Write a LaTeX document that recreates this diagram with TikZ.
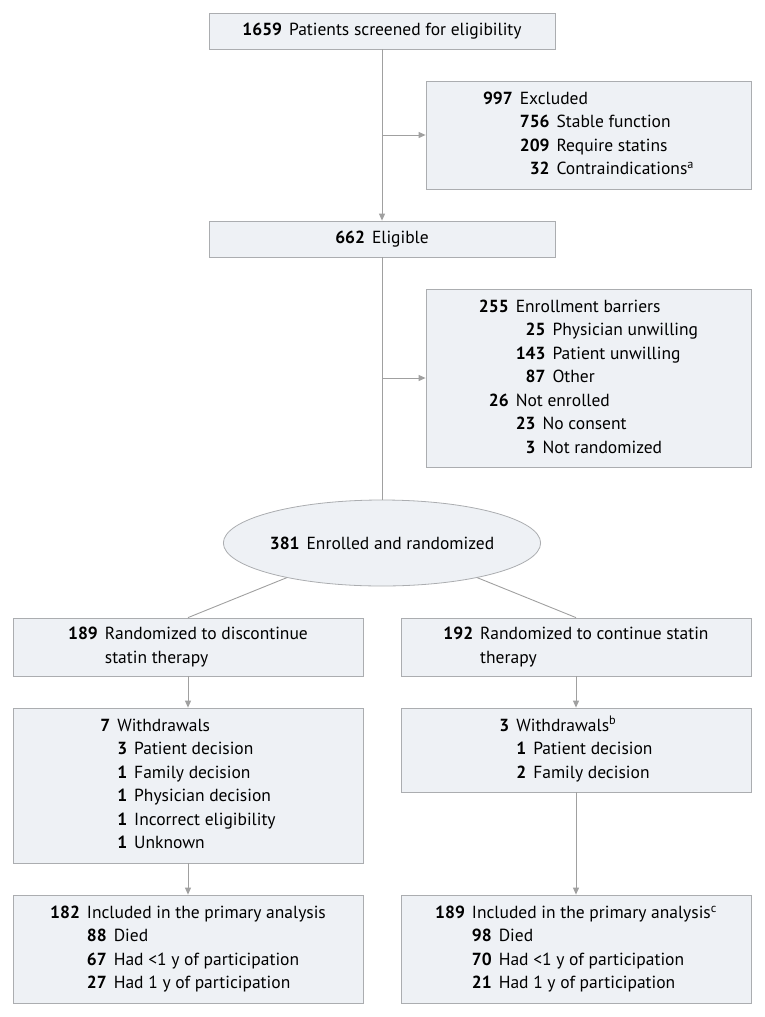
\documentclass[tikz,border=0pt]{standalone}
\usepackage{fontspec}
\setmainfont{PT Sans}
\usetikzlibrary{shapes.geometric, arrows.meta}

\definecolor{boxfill}{HTML}{EEF1F5}
\definecolor{boxline}{HTML}{ABADB0}
\definecolor{flowline}{HTML}{A0A0A0}

% number column + label column, used inside every box
\newenvironment{counts}{\begin{tabular}[t]{@{}r@{\hspace{7pt}}l@{}}}{\end{tabular}}

\begin{document}
\begin{tikzpicture}[x=1pt, y=-1pt, >={Triangle[length=7pt, width=6pt]},
		font=\fontsize{17.5}{23.5}\selectfont,
		box/.style={draw=boxline, fill=boxfill, line width=0.8pt, inner sep=0pt},
		wide/.style={box, minimum width=346pt},
		side/.style={box, minimum width=325pt},
		arm/.style={box, minimum width=350pt},
		flow/.style={draw=flowline, line width=0.9pt}]
			\useasboundingbox (0,0) rectangle (764,1017);
			\node[wide, minimum height=36pt] (screened) at (382,31) {\textbf{1659}\hspace{7pt}Patients screened for eligibility};
			\node[side, minimum height=108pt] (excluded) at (588.5,135) {\begin{counts}
					\textbf{997} & Excluded\\
					& \begin{counts}
						\textbf{756} & Stable function\\
						\textbf{209} & Require statins\\
						\textbf{32} & Contraindications\textsuperscript{a}
					\end{counts}
				\end{counts}};
			\node[wide, minimum height=36pt] (eligible) at (382,239) {\textbf{662}\hspace{7pt}Eligible};
			\node[side, minimum height=178pt] (barriers) at (588.5,378) {\begin{counts}
					\textbf{255} & Enrollment barriers\\
					& \begin{counts}
						\textbf{25} & Physician unwilling\\
						\textbf{143} & Patient unwilling\\
						\textbf{87} & Other
					\end{counts}\\
					\textbf{26} & Not enrolled\\
					& \begin{counts}
						\textbf{23} & No consent\\
						\textbf{3} & Not randomized
					\end{counts}
				\end{counts}};
			\node[box, ellipse, minimum width=308pt, minimum height=86pt] (enrolled) at (382,543) {\textbf{381}\hspace{7pt}Enrolled and randomized};

			% two arms
			\node[arm, minimum height=58pt] (disc) at (188,647) {\begin{counts}
					\textbf{189} & Randomized to discontinue\\
					& statin therapy
				\end{counts}};
			\node[arm, minimum height=58pt] (cont) at (576,647) {\begin{counts}
					\textbf{192} & Randomized to continue statin\\
					& therapy
				\end{counts}};
			\node[arm, minimum height=155pt] (wdisc) at (188,785.5) {\begin{counts}
					\textbf{7} & Withdrawals\\
					& \begin{counts}
						\textbf{3} & Patient decision\\
						\textbf{1} & Family decision\\
						\textbf{1} & Physician decision\\
						\textbf{1} & Incorrect eligibility\\
						\textbf{1} & Unknown
					\end{counts}
				\end{counts}};
			\node[arm, minimum height=84pt] (wcont) at (576,750) {\begin{counts}
					\textbf{3} & Withdrawals\textsuperscript{b}\\
					& \begin{counts}
						\textbf{1} & Patient decision\\
						\textbf{2} & Family decision
					\end{counts}
				\end{counts}};
			\node[arm, minimum height=108pt] (adisc) at (188,949) {\begin{counts}
					\textbf{182} & Included in the primary analysis\\
					& \begin{counts}
						\textbf{88} & Died\\
						\textbf{67} & Had <1 y of participation\\
						\textbf{27} & Had 1 y of participation
					\end{counts}
				\end{counts}};
			\node[arm, minimum height=108pt] (acont) at (576,949) {\begin{counts}
					\textbf{189} & Included in the primary analysis\textsuperscript{c}\\
					& \begin{counts}
						\textbf{98} & Died\\
						\textbf{70} & Had <1 y of participation\\
						\textbf{21} & Had 1 y of participation
					\end{counts}
				\end{counts}};

			\draw[flow, ->] (screened) -- (eligible);
			\draw[flow, ->] (screened |- excluded) -- (excluded);
			\draw[flow] (eligible) -- (enrolled);
			\draw[flow, ->] (eligible |- barriers) -- (barriers);
			\draw[flow] (enrolled.200) -- (disc.north);
			\draw[flow] (enrolled.340) -- (cont.north);
			\draw[flow, ->] (disc) -- (wdisc);
			\draw[flow, ->] (wdisc) -- (adisc);
			\draw[flow, ->] (cont) -- (wcont);
			\draw[flow, ->] (wcont) -- (acont);
		\end{tikzpicture}
\end{document}
